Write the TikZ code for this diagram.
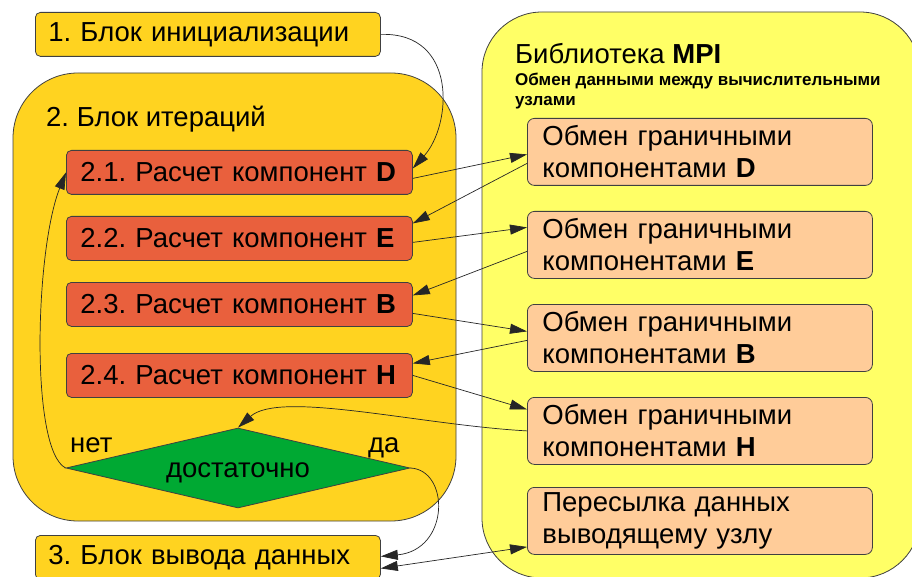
\documentclass[tikz,border=0pt]{standalone}
\usepackage{fontspec}
\setmainfont{Liberation Sans}
\usetikzlibrary{shapes.geometric,arrows.meta,calc}
\definecolor{gold}{HTML}{FFD320}
\definecolor{redbox}{HTML}{E9603D}
\definecolor{peach}{HTML}{FFCC99}
\definecolor{lyellow}{HTML}{FFFF66}
\definecolor{dgreen}{HTML}{00A933}
\frenchspacing
\begin{document}
\begin{tikzpicture}[x=1pt,y=-1pt,
  every node/.style={font=\fontsize{27.5}{32}\selectfont, text=black},
  boxline/.style={draw=black!75, line width=0.8pt},
  goldbox/.style={boxline, fill=gold, rounded corners=5pt, anchor=north west, minimum height=44pt, inner xsep=13pt, inner ysep=0pt, text width=319pt, align=left},
  calcbox/.style={boxline, fill=redbox, rounded corners=5pt, anchor=north west, minimum height=44pt, inner xsep=14pt, inner ysep=0pt, text width=318pt, align=left},
  xchbox/.style={boxline, fill=peach, rounded corners=7pt, anchor=north west, minimum height=67pt, inner xsep=15pt, inner ysep=0pt, text width=315pt, align=left},
  label/.style={inner sep=0pt, anchor=base west},
  conn/.style={draw=black!85, line width=0.7pt, -{Triangle[length=17pt,width=10pt]}},
]
\useasboundingbox (0,0) rectangle (912,577);
\fill[white] (0,0) rectangle (912,577);
% containers
\draw[boxline, fill=gold, rounded corners=65pt] (13,73) rectangle (456,521);
\draw[boxline, fill=lyellow, rounded corners=60pt] (482,12) rectangle (920,578);
% left column
\node[goldbox] (b1) at (35,12) {1. Блок инициализации};
\node[label] (t2) at (46,127) {2. Блок итераций};
\node[calcbox] (r1) at (66,150) {2.1. Расчет компонент \textbf{D}};
\node[calcbox] (r2) at (66,216) {2.2. Расчет компонент \textbf{E}};
\node[calcbox] (r3) at (66,282) {2.3. Расчет компонент \textbf{B}};
\node[calcbox] (r4) at (66,353) {2.4. Расчет компонент \textbf{H}};
\node[diamond, aspect=4.3, draw=black!75, line width=0.8pt, fill=dgreen, minimum width=344pt, minimum height=80pt, inner sep=0pt, text height=19pt, text depth=0pt] (dec) at (238,468) {достаточно};
\node[label] (no) at (70,452) {нет};
\node[label] (yes) at (368,452) {да};
\node[goldbox] (b3) at (35,535) {3. Блок вывода данных};
% right column
\node[label] (mt) at (515,64) {Библиотека \textbf{MPI}};
\node[inner sep=0pt, anchor=north west, align=left, font=\fontsize{17}{20}\selectfont\bfseries] (ms) at (515,73) {Обмен данными между вычислительными\\узлами};
\node[xchbox] (pD) at (527,118) {Обмен граничными\\компонентами \textbf{D}};
\node[xchbox] (pE) at (527,211) {Обмен граничными\\компонентами \textbf{E}};
\node[xchbox] (pB) at (527,304) {Обмен граничными\\компонентами \textbf{B}};
\node[xchbox] (pH) at (527,397) {Обмен граничными\\компонентами \textbf{H}};
\node[xchbox] (pP) at (527,487) {Пересылка данных\\выводящему узлу};
% connectors
\draw[conn] (b1.east) .. controls (458,32) and (452,125) .. ([yshift=4pt]r1.east);
\draw[conn] ([yshift=-6pt]r1.east) -- ([yshift=-2.5pt]pD.west);
\draw[conn] ([yshift=-11.5pt]pD.west) -- ([yshift=15pt]r2.east);
\draw[conn] ([yshift=-4pt]r2.east) -- ([yshift=17.5pt]pE.west);
\draw[conn] ([yshift=-6.5pt]pE.west) -- ([yshift=9pt]r3.east);
\draw[conn] ([yshift=-9pt]r3.east) -- ([yshift=6.5pt]pB.west);
\draw[conn] ([yshift=-2.5pt]pB.west) -- ([yshift=12pt]r4.east);
\draw[conn] (r4.east) -- ([yshift=21.5pt]pH.west);
\draw[conn] (pH.west) .. controls (420,425) and (280,390) .. (dec.north);
\draw[conn] (dec.west) .. controls (30,450) and (35,250) .. (r1.west);
\draw[conn] (dec.east) .. controls (450,470) and (450,550) .. ([yshift=1pt]b3.east);
\draw[conn, {Triangle[length=17pt,width=10pt]}-{Triangle[length=17pt,width=10pt]}] ([yshift=-11pt]b3.east) -- ([yshift=-26pt]pP.west);
\end{tikzpicture}
\end{document}
